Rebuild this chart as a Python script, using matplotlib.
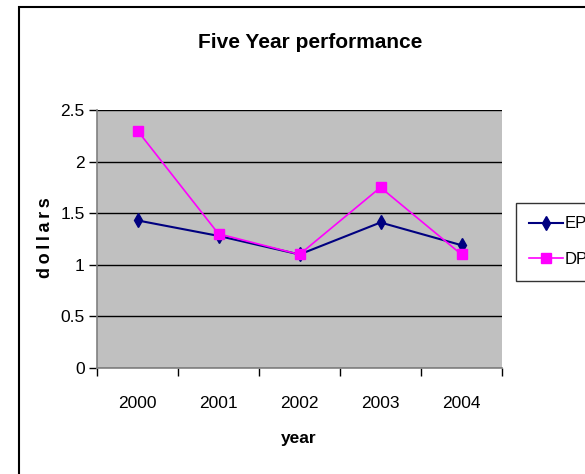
import matplotlib
matplotlib.use("Agg")
import matplotlib.pyplot as plt
from matplotlib.patches import Rectangle

# datos
years = ["2000", "2001", "2002", "2003", "2004"]
eps = [1.43, 1.28, 1.10, 1.41, 1.19]
dps = [2.30, 1.30, 1.10, 1.75, 1.10]
y_ticks = [0, 0.5, 1, 1.5, 2, 2.5]
y_labels = ["0", "0.5", "1", "1.5", "2", "2.5"]

plt.rcParams['font.family'] = ['Liberation Sans', 'DejaVu Sans']

fig = plt.figure(figsize=(5.85, 4.74), dpi=100)
ax = fig.add_axes([97/585, 1-368/474, (502-97)/585, (368-110)/474])
ax.set_facecolor('#c0c0c0')

x = list(range(len(years)))
ax.plot(x, eps, color='#000080', marker='d', markersize=7, lw=1.5, label='EPS')
ax.plot(x, dps, color='#ff00ff', marker='s', markersize=7, lw=1.2, label='DPS')

ax.set_xlim(-0.5, len(years) - 0.5)
ax.set_ylim(0, 2.5)
ax.set_yticks(y_ticks)
ax.set_yticklabels(y_labels, fontsize=12.5)
ax.set_xticks([i - 0.5 for i in range(len(years) + 1)])
ax.set_xticklabels([])
ax.set_xticks(x, minor=True)
ax.set_xticklabels(years, minor=True, fontsize=12.5)
ax.tick_params(axis='x', which='minor', length=0, pad=20)
ax.tick_params(axis='both', which='major', length=6, width=1, direction='out')
ax.tick_params(axis='y', pad=3)
ax.grid(axis='y', color='black', lw=1)
ax.set_axisbelow(True)
for s in ['top', 'right']:
    ax.spines[s].set_visible(False)
ax.spines['left'].set_color('#808080')
ax.spines['bottom'].set_color('#808080')
ax.spines['left'].set_linewidth(1.2)
ax.spines['bottom'].set_linewidth(1.2)

fig.text(310/585, 1-43/474, "Five Year performance", fontsize=15, fontweight='bold',
         ha='center', va='center')
fig.text(46/585, 1-238/474, "d\u2009o\u2009l\u2009l\u2009a\u2009r\u2009s", fontsize=13,
         fontweight='bold', rotation=90, ha='center', va='center')
fig.text(299/585, 1-439/474, "year", fontsize=12.5, fontweight='bold', ha='center', va='center')

leg = fig.legend(loc='upper left', bbox_to_anchor=(516/585, 1-203/474), fontsize=12,
                 frameon=True, fancybox=False, edgecolor='black', handlelength=2.0,
                 borderpad=0.8, borderaxespad=0, labelspacing=1.25, handletextpad=0.1)
leg.get_frame().set_linewidth(1)

# borde de la figura
fig.add_artist(Rectangle((19/585, -0.1), 1.2, 1.1 - 7/474, transform=fig.transFigure,
                         fill=False, edgecolor='black', lw=1.5))

fig.savefig("out.png", dpi=100)
